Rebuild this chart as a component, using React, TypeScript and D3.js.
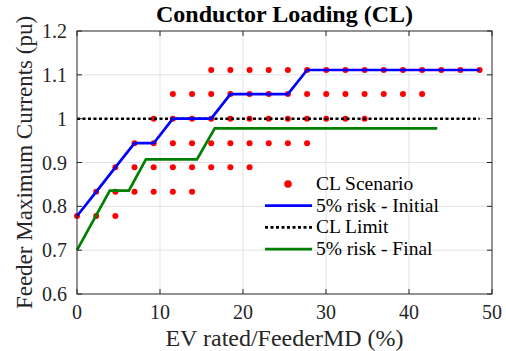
import * as d3 from "d3";

// EV rated / Feeder MD (%) at each scenario step
const evSteps = [0, 2.31, 4.62, 6.93, 9.24, 11.55, 13.86, 16.17, 18.48, 20.79, 23.1,
  25.41, 27.72, 30.03, 32.34, 34.65, 36.96, 39.27, 41.58, 43.89, 46.2, 48.51];

// CL scenario points: loading levels found at each step
const scenarioLevels = [
  [0.778],
  [0.778, 0.833],
  [0.778, 0.833, 0.889],
  [0.833, 0.889, 0.944],
  [0.833, 0.889, 0.944, 1.0],
  [0.833, 0.889, 0.944, 1.0, 1.056],
  [0.833, 0.889, 0.944, 1.0, 1.056],
  [0.889, 0.944, 1.0, 1.056, 1.111],
  [0.889, 0.944, 1.0, 1.056, 1.111],
  [0.889, 0.944, 1.0, 1.056, 1.111],
  [0.944, 1.0, 1.056, 1.111],
  [0.944, 1.0, 1.056, 1.111],
  [0.944, 1.0, 1.056, 1.111],
  [1.0, 1.056, 1.111],
  [1.0, 1.056, 1.111],
  [1.0, 1.056, 1.111],
  [1.056, 1.111],
  [1.056, 1.111],
  [1.056, 1.111],
  [1.111],
  [1.111],
  [1.111],
];

// 5% risk - Initial (one value per ev step)
const riskInitial = [0.778, 0.833, 0.889, 0.944, 0.944, 1.0, 1.0, 1.0, 1.056, 1.056, 1.056,
  1.056, 1.111, 1.111, 1.111, 1.111, 1.111, 1.111, 1.111, 1.111, 1.111, 1.111];

// 5% risk - Final
const riskFinalX = [0, 3.95, 6.25, 8.3, 14.45, 16.6, 43.4];
const riskFinalY = [0.7, 0.836, 0.836, 0.907, 0.907, 0.978, 0.978];

const clLimit = 1.0;
const xTicks = [0, 10, 20, 30, 40, 50];
const yTicks = [0.6, 0.7, 0.8, 0.9, 1, 1.1, 1.2];

const W = 506, H = 351;
const m = { left: 77, right: 14, top: 31, bottom: 57 };
const font = "'Liberation Serif', 'Times New Roman', serif";

export default function App() {
  const x = d3.scaleLinear().domain([0, 50]).range([m.left, W - m.right]);
  const y = d3.scaleLinear().domain([0.6, 1.2]).range([H - m.bottom, m.top]);
  const line = d3.line<[number, number]>().x((d) => x(d[0])).y((d) => y(d[1]));

  const dots = evSteps.flatMap((ev, i) => scenarioLevels[i].map((v) => [ev, v]));
  const initPts = evSteps.map((ev, i) => [ev, riskInitial[i]] as [number, number]);
  const finalPts = riskFinalX.map((v, i) => [v, riskFinalY[i]] as [number, number]);
  const x0 = x(0), x1 = x(50), y0 = y(0.6), y1 = y(1.2);
  const tl = 5;

  const legend = [
    { label: "CL Scenario", kind: "dot" },
    { label: "5% risk - Initial", kind: "line", color: "#0000ff", dash: "" },
    { label: "CL Limit", kind: "line", color: "#000", dash: "3 2.5" },
    { label: "5% risk - Final", kind: "line", color: "#008000", dash: "" },
  ];

  return (
    <svg width={W} height={H} style={{ position: "absolute", left: 0, top: 0, background: "#fff" }}
      fontFamily={font}>
      {/* grid */}
      {xTicks.slice(1, -1).map((t) => (
        <line key={"gx" + t} x1={x(t)} x2={x(t)} y1={y1} y2={y0} stroke="#e3e3e3" strokeWidth={1} />
      ))}
      {yTicks.slice(1, -1).map((t) => (
        <line key={"gy" + t} x1={x0} x2={x1} y1={y(t)} y2={y(t)} stroke="#e3e3e3" strokeWidth={1} />
      ))}

      {/* data */}
      {dots.map((d, i) => (
        <circle key={i} cx={x(d[0])} cy={y(d[1])} r={3} fill="#ff0000" />
      ))}
      <path d={line([[0, clLimit], [48.51, clLimit]])!} fill="none" stroke="#000" strokeWidth={2.5}
        strokeDasharray="3 2.5" />
      <path d={line(finalPts)!} fill="none" stroke="#008000" strokeWidth={2.7} />
      <path d={line(initPts)!} fill="none" stroke="#0000ff" strokeWidth={2.7} />

      {/* box + ticks */}
      <rect x={x0} y={y1} width={x1 - x0} height={y0 - y1} fill="none" stroke="#262626" strokeWidth={1} />
      {xTicks.map((t) => (
        <g key={"tx" + t}>
          <line x1={x(t)} x2={x(t)} y1={y0} y2={y0 - tl} stroke="#262626" />
          <line x1={x(t)} x2={x(t)} y1={y1} y2={y1 + tl} stroke="#262626" />
          <text x={x(t)} y={y0 + 25} textAnchor="middle" fontSize={20} fill="#262626">{t}</text>
        </g>
      ))}
      {yTicks.map((t) => (
        <g key={"ty" + t}>
          <line x1={x0} x2={x0 + tl} y1={y(t)} y2={y(t)} stroke="#262626" />
          <line x1={x1} x2={x1 - tl} y1={y(t)} y2={y(t)} stroke="#262626" />
          <text x={x0 - 10} y={y(t) + 7} textAnchor="end" fontSize={20} fill="#262626">{String(t)}</text>
        </g>
      ))}

      {/* labels */}
      <text x={(x0 + x1) / 2} y={22} textAnchor="middle" fontSize={24} fontWeight="bold" fill="#000">
        Conductor Loading (CL)
      </text>
      <text x={(x0 + x1) / 2} y={H - 5} textAnchor="middle" fontSize={24} fill="#262626">
        EV rated/FeederMD (%)
      </text>
      <text transform={`translate(32,${(y0 + y1) / 2}) rotate(-90)`} textAnchor="middle" fontSize={23}
        fill="#262626">
        Feeder Maximum Currents (pu)
      </text>

      {/* legend */}
      {legend.map((it, i) => {
        const ly = 184 + i * 21.7;
        return (
          <g key={it.label}>
            {it.kind === "dot" ? (
              <circle cx={288} cy={ly} r={3.8} fill="#ff0000" />
            ) : (
              <line x1={265} x2={312} y1={ly} y2={ly} stroke={it.color} strokeWidth={2.7}
                strokeDasharray={it.dash || undefined} />
            )}
            <text x={316} y={ly + 6} fontSize={19.5} fill="#000">{it.label}</text>
          </g>
        );
      })}
    </svg>
  );
}
